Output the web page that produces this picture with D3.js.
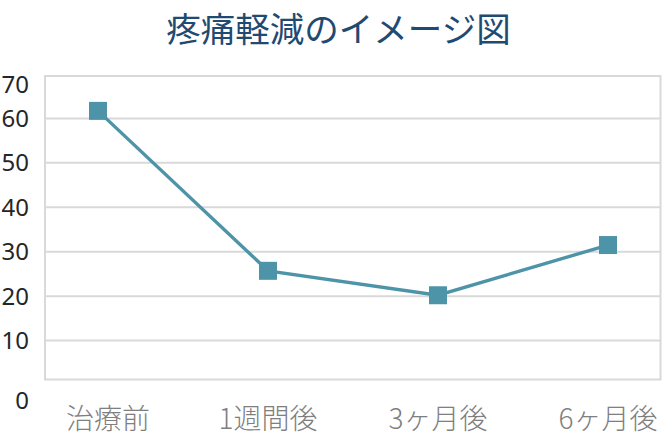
<!DOCTYPE html>
<html>
<head>
<meta charset="utf-8">
<script src="https://cdn.jsdelivr.net/npm/d3@7/dist/d3.min.js"></script>
<style>
  html, body { margin: 0; padding: 0; background: #ffffff; }
  svg { display: block; }
</style>
</head>
<body>
<svg id="chart" width="662" height="438"></svg>
<script>
const title = "疼痛軽減のイメージ図";
const categories = ["治療前", "1週間後", "3ヶ月後", "6ヶ月後"];
const values = [61.7, 25.7, 20.2, 31.5];
const yTicks = [0, 10, 20, 30, 40, 50, 60, 70];
const gridTicks = [10, 20, 30, 40, 50, 60];

const W = 662, H = 438;
const frame = { left: 45, right: 660.5, top: 76, bottom: 379.5 };

const svg = d3.select("#chart");

const x = d3.scalePoint().domain(categories).range([98, 608]);
const y = d3.scaleLinear().domain([0, 70]).range([385, 74]);

const lineColor = "#4e94a8";
const gridColor = "#d9d9d9";

// frame
svg.append("rect")
  .attr("x", frame.left).attr("y", frame.top)
  .attr("width", frame.right - frame.left)
  .attr("height", frame.bottom - frame.top)
  .attr("fill", "none")
  .attr("stroke", gridColor)
  .attr("stroke-width", 2);

// gridlines
svg.append("g").selectAll("line")
  .data(gridTicks)
  .join("line")
  .attr("x1", frame.left).attr("x2", frame.right)
  .attr("y1", d => y(d)).attr("y2", d => y(d))
  .attr("stroke", gridColor)
  .attr("stroke-width", 2);

// y tick labels
svg.append("g").selectAll("text")
  .data(yTicks)
  .join("text")
  .attr("x", 29)
  .attr("y", d => d === 0 ? y(d) + 15 : (d === 70 ? y(d) + 10 : y(d)))
  .attr("dy", "0.36em")
  .attr("text-anchor", "end")
  .attr("font-family", "'Noto Sans', 'DejaVu Sans', sans-serif")
  .attr("font-size", 24)
  .attr("fill", "#262626")
  .text(d => d);

// x labels
svg.append("g").selectAll("text")
  .data(categories)
  .join("text")
  .attr("x", (d, i) => x(d) + (i === 0 ? 10 : 0))
  .attr("y", 429)
  .attr("text-anchor", "middle")
  .attr("font-family", "'Noto Sans CJK JP', 'Noto Sans', sans-serif")
  .attr("font-size", 28)
  .attr("font-weight", 300)
  .attr("fill", "#7f7f7f")
  .text(d => d);

// line
const pts = categories.map((c, i) => [x(c), y(values[i])]);
svg.append("path")
  .datum(pts)
  .attr("d", d3.line())
  .attr("fill", "none")
  .attr("stroke", lineColor)
  .attr("stroke-width", 3.4);

// markers
const ms = 18;
svg.append("g").selectAll("rect")
  .data(pts)
  .join("rect")
  .attr("x", d => d[0] - ms / 2)
  .attr("y", d => d[1] - ms / 2)
  .attr("width", ms).attr("height", ms)
  .attr("fill", lineColor);

// title
svg.append("text")
  .attr("x", 338.5)
  .attr("y", 41.5)
  .attr("text-anchor", "middle")
  .attr("font-family", "'Noto Sans CJK JP', sans-serif")
  .attr("font-size", 34.5)
  .attr("fill", "#1f4a72")
  .text(title);
</script>
</body>
</html>
